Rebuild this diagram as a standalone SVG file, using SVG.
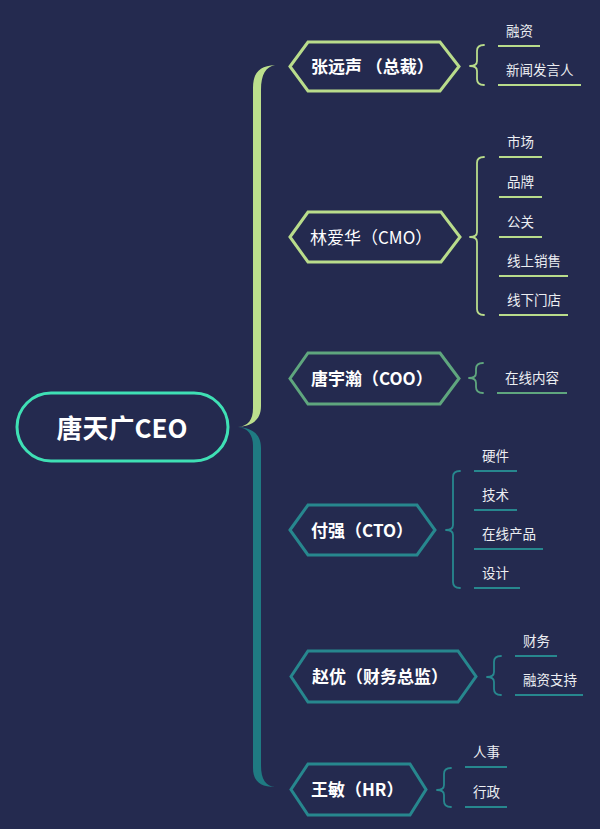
<svg xmlns="http://www.w3.org/2000/svg" width="600" height="829" viewBox="0 0 600 829">
<style>
.bg{fill:#242a4f}
.node{fill:#242a4f;stroke-width:3;stroke-linejoin:miter}
.nt{font-family:"Noto Sans CJK SC","Noto Sans",sans-serif;font-size:17px;fill:#ffffff;dominant-baseline:central}
.b{font-weight:bold}
.ct{font-family:"Noto Sans CJK SC","Noto Sans",sans-serif;font-size:13.5px;fill:#eceef2;dominant-baseline:central}
.br{fill:none;stroke-width:1.8;stroke-linecap:round;stroke-linejoin:round}
.ul{stroke-width:2;fill:none}
.g1{stroke:#b9dc8b}
.g2{stroke:#5fa67e}
.g3{stroke:#27878e}
</style>
<rect class="bg" x="0" y="0" width="600" height="829"/>

<g id="connectors">
  <path d="M275,65 C260,66 253,72 253,88 L253,408 C253,420 248,426 238,427 C252,426 261,420 261,406 L261,90 C261,74 266,67 275,65 Z" fill="#bcdf8d"/>
  <path d="M238,427 C252,428 261,434 261,448 L261,765 C261,780 266,786 275,787 C260,787 253,781 253,768 L253,446 C253,435 248,428 238,427 Z" fill="#1f7a82"/>
  <path class="br g1" d="M484,45 Q477,45 477,51 L477,61 Q477,66 470,66 Q477,66 477,71 L477,79 Q477,85 484,85"/>
  <path class="br g1" d="M484,157 Q477,157 477,163 L477,232 Q477,237 470,237 Q477,237 477,242 L477,309 Q477,315 484,315"/>
  <path class="br g2" d="M483,363 Q476,363 476,369 L476,373 Q476,378 469,378 Q476,378 476,383 L476,387 Q476,393 483,393"/>
  <path class="br g3" d="M460,471 Q453,471 453,477 L453,525 Q453,530 446,530 Q453,530 453,535 L453,582 Q453,588 460,588"/>
  <path class="br g3" d="M501,656 Q494,656 494,662 L494,672 Q494,677 487,677 Q494,677 494,682 L494,689 Q494,695 501,695"/>
  <path class="br g3" d="M451,768 Q444,768 444,774 L444,785 Q444,790 437,790 Q444,790 444,795 L444,801 Q444,807 451,807"/>
</g>

<g id="root">
  <rect x="17" y="393" width="211" height="68" rx="34" ry="34" fill="#242a4f" stroke="#3fe0b5" stroke-width="3"/>
  <text x="122" y="426" text-anchor="middle" class="nt b" style="font-size:26px">唐天广CEO</text>
</g>

<g id="n1">
  <polygon class="node g1" points="290,66.5 308,42 440,42 459,66.5 440,91 308,91"/>
  <text x="311" y="65.5" class="nt b">张远声 （总裁）</text>
</g>
<g id="n1c">
  <line class="ul g1" x1="498" y1="46" x2="540" y2="46"/><text x="506" y="30" class="ct">融资</text>
  <line class="ul g1" x1="498" y1="85" x2="581" y2="85"/><text x="506" y="69" class="ct">新闻发言人</text>
</g>

<g id="n2">
  <polygon class="node g1" points="290,237 308,212 441,212 460,237 441,262 308,262"/>
  <text x="310" y="236" class="nt">林爱华（CMO）</text>
</g>
<g id="n2c">
  <line class="ul g1" x1="499" y1="157" x2="542" y2="157"/><text x="507" y="141" class="ct">市场</text>
  <line class="ul g1" x1="499" y1="197" x2="542" y2="197"/><text x="507" y="181" class="ct">品牌</text>
  <line class="ul g1" x1="499" y1="237" x2="542" y2="237"/><text x="507" y="221" class="ct">公关</text>
  <line class="ul g1" x1="499" y1="276" x2="568" y2="276"/><text x="507" y="260" class="ct">线上销售</text>
  <line class="ul g1" x1="499" y1="315" x2="568" y2="315"/><text x="507" y="299" class="ct">线下门店</text>
</g>

<g id="n3">
  <polygon class="node g2" points="290,378.5 308,353 440,353 459,378.5 440,404 308,404"/>
  <text x="311" y="377.5" class="nt b">唐宇瀚（COO）</text>
</g>
<g id="n3c">
  <line class="ul g2" x1="497" y1="393" x2="567" y2="393"/><text x="505" y="377" class="ct">在线内容</text>
</g>

<g id="n4">
  <polygon class="node g3" points="290,530 308,505 417,505 435,530 417,555 308,555"/>
  <text x="311" y="529" class="nt b">付强（CTO）</text>
</g>
<g id="n4c">
  <line class="ul g3" x1="474" y1="471" x2="517" y2="471"/><text x="482" y="455" class="ct">硬件</text>
  <line class="ul g3" x1="474" y1="510" x2="517" y2="510"/><text x="482" y="494" class="ct">技术</text>
  <line class="ul g3" x1="474" y1="549" x2="543" y2="549"/><text x="482" y="533" class="ct">在线产品</text>
  <line class="ul g3" x1="474" y1="588" x2="520" y2="588"/><text x="482" y="572" class="ct">设计</text>
</g>

<g id="n5">
  <polygon class="node g3" points="291,676.5 308,651 458,651 476,676.5 458,702 308,702"/>
  <text x="312" y="675.5" class="nt b">赵优（财务总监）</text>
</g>
<g id="n5c">
  <line class="ul g3" x1="515" y1="656" x2="557" y2="656"/><text x="523" y="640" class="ct">财务</text>
  <line class="ul g3" x1="515" y1="695" x2="583" y2="695"/><text x="523" y="679" class="ct">融资支持</text>
</g>

<g id="n6">
  <polygon class="node g3" points="291,789.5 308,764 410,764 426,789.5 410,815 308,815"/>
  <text x="311" y="788.5" class="nt b">王敏（HR）</text>
</g>
<g id="n6c">
  <line class="ul g3" x1="465" y1="767" x2="507" y2="767"/><text x="473" y="751" class="ct">人事</text>
  <line class="ul g3" x1="465" y1="807" x2="507" y2="807"/><text x="473" y="791" class="ct">行政</text>
</g>
</svg>
